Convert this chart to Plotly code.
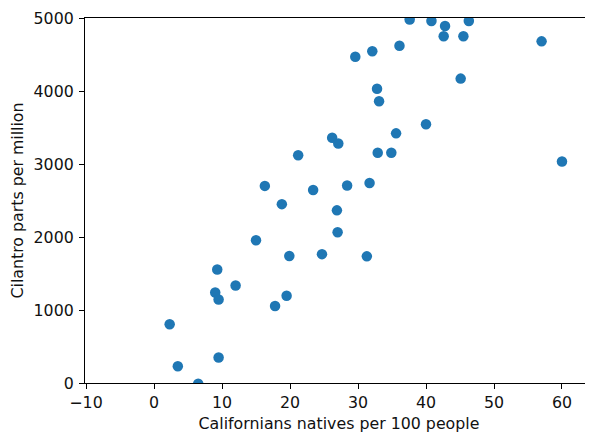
import plotly.graph_objects as go

natives_per_100 = [16.3, 18.8, 21.2, 37.6, 40.8, 42.8, 46.3, 42.6, 45.5, 57.0,
                   29.6, 32.1, 36.1, 45.1, 32.8, 33.1, 40.0, 26.2, 27.1, 35.6,
                   32.9, 34.9, 60.0, 23.4, 28.4, 31.7, 26.9, 15.0, 19.9, 9.3,
                   12.0, 9.0, 9.5, 19.5, 17.8, 2.3, 3.5, 9.5, 6.5, 27.0,
                   24.7, 31.3]
cilantro_ppm = [2700, 2450, 3120, 4980, 4960, 4890, 4960, 4750, 4750, 4680,
                4470, 4545, 4620, 4170, 4030, 3860, 3545, 3360, 3280, 3420,
                3155, 3155, 3035, 2645, 2705, 2740, 2365, 1955, 1740, 1555,
                1335, 1240, 1145, 1195, 1055, 805, 230, 350, -10, 2065,
                1765, 1735]

x_title = "Californians natives per 100 people"
y_title = "Cilantro parts per million"
x_ticks = [-10, 0, 10, 20, 30, 40, 50, 60]
y_ticks = [0, 1000, 2000, 3000, 4000, 5000]

font = dict(family="DejaVu Sans", size=15.8, color="#111111")

fig = go.Figure(go.Scatter(
    x=natives_per_100, y=cilantro_ppm, mode="markers",
    marker=dict(size=10.5, color="#1f77b4", line=dict(width=0)),
))

axis_common = dict(
    showgrid=False, zeroline=False, showline=True, linecolor="black",
    linewidth=1.2, ticks="outside", ticklen=5, tickwidth=1.2,
    tickcolor="black", tickfont=font, title_font=font, automargin=False,
)

# the page body adds an 8 px offset, so the figure is 8 px smaller
fig.update_layout(
    width=585, height=427,
    margin=dict(l=77, r=0, t=10, b=52),
    paper_bgcolor="white", plot_bgcolor="white",
    showlegend=False,
    xaxis=dict(axis_common, range=[-10.15, 64.56], tickvals=x_ticks,
               mirror=True, title=dict(text=x_title, standoff=6)),
    yaxis=dict(axis_common, range=[0, 5000], tickvals=y_ticks,
               ticklabelstandoff=2,
               title=dict(text=y_title, standoff=6)),
)

fig.write_html("out.html")
